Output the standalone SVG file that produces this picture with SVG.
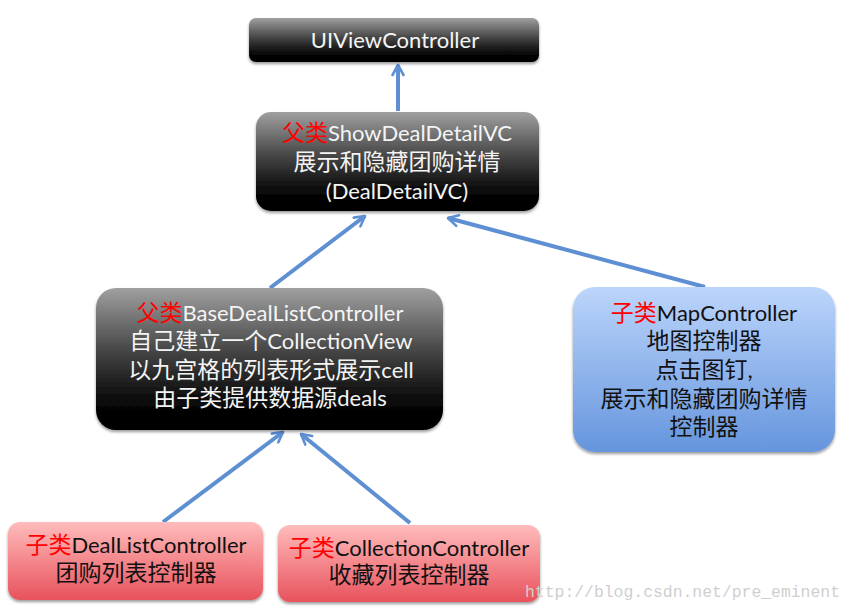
<svg xmlns="http://www.w3.org/2000/svg" width="852" height="610" viewBox="0 0 852 610">
<defs>
<linearGradient id="gDark" x1="0" y1="0" x2="0" y2="1">
<stop offset="0" stop-color="#a0a0a0"/>
<stop offset="0.45" stop-color="#444"/>
<stop offset="0.8" stop-color="#080808"/>
<stop offset="1" stop-color="#000"/>
</linearGradient>
<linearGradient id="gBlue" x1="0" y1="0" x2="0" y2="1">
<stop offset="0" stop-color="#bcd5fb"/>
<stop offset="1" stop-color="#6595dd"/>
</linearGradient>
<linearGradient id="gRed" x1="0" y1="0" x2="0" y2="1">
<stop offset="0" stop-color="#ffbcbc"/>
<stop offset="1" stop-color="#e8525c"/>
</linearGradient>
<filter id="sh" x="-10%" y="-10%" width="120%" height="130%">
<feGaussianBlur in="SourceAlpha" stdDeviation="1.5"/>
<feOffset dx="0" dy="2" result="b"/>
<feComponentTransfer><feFuncA type="linear" slope="0.4"/></feComponentTransfer>
<feMerge><feMergeNode/><feMergeNode in="SourceGraphic"/></feMerge>
</filter>
<marker id="ah" viewBox="0 0 14 14" refX="12" refY="7" markerWidth="14" markerHeight="14" markerUnits="userSpaceOnUse" orient="auto">
<path d="M2,1.5 L12,7 L2,12.5" fill="none" stroke="#5e8fd3" stroke-width="2.6" stroke-linecap="round" stroke-linejoin="round"/>
</marker>
</defs>
<style>
text{font-family:Lato,"Noto Sans CJK SC",sans-serif;font-size:22px;text-anchor:middle}
.c{font-size:23px}
.w{fill:#f4f4f4}
.k{fill:#111}
.r{fill:#ff0000;font-size:23px}
.edge{stroke:#5e8fd3;stroke-width:4;fill:none;marker-end:url(#ah)}
.wm{font-family:"Liberation Mono",monospace;font-size:17px;fill:#cfcfcf;text-anchor:start}
</style>
<rect width="852" height="610" fill="#fff"/>
<g id="connectors">
<line class="edge" x1="398" y1="111" x2="398" y2="65"/>
<line class="edge" x1="270" y1="288" x2="365" y2="216"/>
<line class="edge" x1="705" y1="287" x2="448" y2="218"/>
<line class="edge" x1="163" y1="522" x2="283" y2="432"/>
<line class="edge" x1="410" y1="523" x2="301" y2="434"/>
</g>
<g id="uiviewcontroller">
<rect x="249" y="18" width="290" height="44" rx="7" fill="url(#gDark)" filter="url(#sh)"/>
<text class="w" x="395" y="48">UIViewController</text>
</g>
<g id="showdealdetailvc">
<rect x="256" y="112" width="283" height="99" rx="15" fill="url(#gDark)" filter="url(#sh)"/>
<text class="w" x="397" y="141"><tspan class="r">父类</tspan>ShowDealDetailVC</text>
<text class="w c" x="397" y="170">展示和隐藏团购详情</text>
<text class="w" x="397" y="199">(DealDetailVC)</text>
</g>
<g id="basedeallistcontroller">
<rect x="96" y="288" width="347" height="142" rx="20" fill="url(#gDark)" filter="url(#sh)"/>
<text class="w" x="270" y="321"><tspan class="r">父类</tspan>BaseDealListController</text>
<text class="w" x="271" y="349"><tspan class="c">自己建立一个</tspan>CollectionView</text>
<text class="w" x="271" y="378"><tspan class="c">以九宫格的列表形式展示</tspan>cell</text>
<text class="w" x="270" y="406"><tspan class="c">由子类提供数据源</tspan>deals</text>
</g>
<g id="mapcontroller">
<rect x="573" y="287" width="262" height="165" rx="22" fill="url(#gBlue)" filter="url(#sh)"/>
<text class="k" x="704" y="321"><tspan class="r">子类</tspan>MapController</text>
<text class="k c" x="704" y="349">地图控制器</text>
<text class="k c" x="704" y="378">点击图钉,</text>
<text class="k c" x="704" y="407">展示和隐藏团购详情</text>
<text class="k c" x="704" y="435">控制器</text>
</g>
<g id="deallistcontroller">
<rect x="8" y="522" width="255" height="78" rx="12" fill="url(#gRed)" filter="url(#sh)"/>
<text class="k" x="136" y="553"><tspan class="r">子类</tspan>DealListController</text>
<text class="k c" x="136" y="581">团购列表控制器</text>
</g>
<g id="collectioncontroller">
<rect x="278" y="525" width="262" height="77" rx="12" fill="url(#gRed)" filter="url(#sh)"/>
<text class="k" x="409" y="556"><tspan class="r">子类</tspan>CollectionController</text>
<text class="k c" x="409" y="583">收藏列表控制器</text>
</g>
<text class="wm" x="525" y="597" textLength="315" lengthAdjust="spacingAndGlyphs">http://blog.csdn.net/pre_eminent</text>
</svg>
